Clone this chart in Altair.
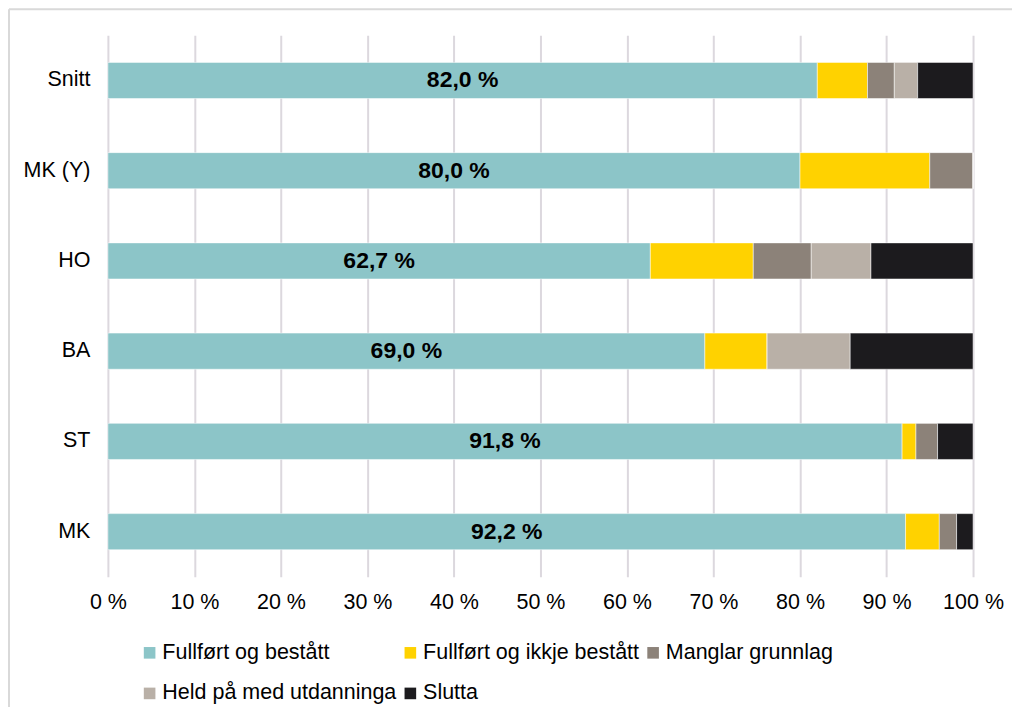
import altair as alt
import pandas as pd

categories = ["Snitt", "MK (Y)", "HO", "BA", "ST", "MK"]
series_names = ["Fullført og bestått", "Fullført og ikkje bestått", "Manglar grunnlag",
                "Held på med utdanninga", "Slutta"]
colors = ["#8CC5C8", "#FFD200", "#8C8279", "#B9B0A7", "#1C1B1E"]

fullfort = [82.0, 80.0, 62.7, 69.0, 91.8, 92.2]
ikkje_bestatt = [5.8, 15.0, 11.9, 7.2, 1.6, 3.9]
manglar = [3.1, 5.0, 6.7, 0.0, 2.5, 2.0]
held_paa = [2.7, 0.0, 6.9, 9.6, 0.0, 0.0]
slutta = [6.4, 0.0, 11.8, 14.2, 4.1, 1.9]

series_values = [fullfort, ikkje_bestatt, manglar, held_paa, slutta]
x_ticks = [0, 10, 20, 30, 40, 50, 60, 70, 80, 90, 100]

rows = []
for si, (name, vals) in enumerate(zip(series_names, series_values)):
    for c, v in zip(categories, vals):
        rows.append({"kategori": c, "serie": name, "verdi": v, "rekkjefolgje": si})
df = pd.DataFrame(rows)
lab = pd.DataFrame({"kategori": categories, "verdi": fullfort})

FONT = "Liberation Sans"
FS = 21.5

y_enc = alt.Y("kategori:N", sort=categories, title=None,
              scale=alt.Scale(paddingInner=0.6, paddingOuter=0.3),
              axis=alt.Axis(domain=False, ticks=False, labelPadding=18,
                            labelFontSize=FS, labelFont=FONT, labelColor="#000000"))

bars = alt.Chart(df).mark_bar(stroke="#ffffff", strokeWidth=0.5).encode(
    x=alt.X("verdi:Q", stack="zero", title=None,
            scale=alt.Scale(domain=[0, 100], nice=False),
            axis=alt.Axis(values=x_ticks, labelExpr="datum.value + ' %'",
                          domain=False, ticks=False, labelPadding=15,
                          labelFlush=False, labelOverlap=False,
                          labelFontSize=FS, labelFont=FONT, labelColor="#000000",
                          grid=True, gridColor="#DCD8DE", gridWidth=2)),
    y=y_enc,
    color=alt.Color("serie:N", title=None,
                    scale=alt.Scale(domain=series_names, range=colors),
                    legend=alt.Legend(orient="none", legendX=31, legendY=607,
                                      direction="horizontal",
                                      columns=3, columnPadding=3, rowPadding=18,
                                      symbolType="square", symbolSize=135,
                                      symbolStrokeWidth=0, labelOffset=2,
                                      labelFontSize=FS, labelFont=FONT,
                                      labelColor="#000000", labelLimit=400,
                                      padding=0)),
    order=alt.Order("rekkjefolgje:Q", sort="ascending"),
)

texts = alt.Chart(lab).transform_calculate(
    midt="datum.verdi / 2",
    tekst="replace(format(datum.verdi, '.1f'), '.', ',') + ' %'",
).mark_text(font=FONT, fontSize=23, fontWeight="bold", color="#000000").encode(
    x="midt:Q",
    y=alt.Y("kategori:N", sort=categories),
    text="tekst:N",
)

one = pd.DataFrame({"a": [0]})
frame_top = alt.Chart(one).mark_rule(stroke="#D9D9D9", strokeWidth=2).encode(
    x=alt.value(-99), x2=alt.value(905), y=alt.value(-26)
)
frame_left = alt.Chart(one).mark_rule(stroke="#D9D9D9", strokeWidth=2).encode(
    x=alt.value(-99), y=alt.value(-26), y2=alt.value(700)
)

chart = alt.layer(frame_top, frame_left, bars, texts).properties(
    width=866, height=542,
    autosize=alt.AutoSizeParams(type="none"),
    padding={"left": 100, "top": 27, "right": 40, "bottom": 130},
).configure(background="#ffffff").configure_view(stroke=None)

chart.save("out.html", embed_options={"renderer": "svg", "actions": False})
